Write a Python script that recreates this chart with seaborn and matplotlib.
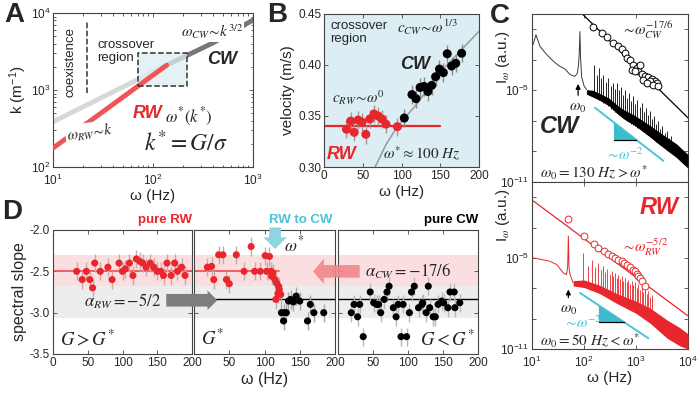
import numpy as np
import matplotlib
matplotlib.use("Agg")
import matplotlib.pyplot as plt
from matplotlib.patches import Rectangle, Polygon
import seaborn as sns

sns.set_theme(style="ticks")
plt.rcParams["font.family"] = ["Liberation Sans", "DejaVu Sans"]
plt.rcParams["mathtext.fontset"] = "stix"
plt.rcParams["axes.unicode_minus"] = False

RED = "#e8262b"
CYAN = "#4cc3d6"
BLUEBG = "#dceef3"

# ---------------- panel A : dispersion k(omega)
a_light_w = [10, 137]
a_light_k = [387, 2100]
a_red_w = [10, 137]
a_red_k = [176, 2100]
a_dark_w = [137, 400, 1000]
a_dark_k = [2100, 4100, 8100]
a_box_w = [71, 218]
a_box_k = [1130, 3000]
a_coex_w = 22
a_coex_k = [910, 7900]

# ---------------- panel B : velocity
b_rw_w = [29, 34.4, 39, 44, 49, 54, 59, 64.5, 69.7, 74.8, 80, 94.6]
b_rw_v = [0.337, 0.345, 0.334, 0.346, 0.344, 0.332, 0.347, 0.352, 0.350, 0.347, 0.342, 0.3395]
b_cw_w = [103.6, 113.5, 118.7, 124, 129, 134, 139, 144, 149, 154, 159, 164.7, 170, 177.6]
b_cw_v = [0.348, 0.371, 0.367, 0.378, 0.379, 0.374, 0.380, 0.3885, 0.396, 0.3925, 0.411, 0.399, 0.4017, 0.4115]
b_err = 0.009
b_flat_w = [0, 150]
b_flat_v = [0.34, 0.34]
b_theory_w = [66, 80, 95, 120, 150, 200]
b_theory_v = [0.300, 0.322, 0.340, 0.362, 0.393, 0.433]

# ---------------- panel C : spectra (log10 of intensity)
cw_low_w = [10.5, 11.9, 14.3, 18, 22.2, 28, 34.5, 43, 54, 67, 74, 78, 81, 83.4, 86, 90, 100, 112]
cw_low_e = [-2.0, -1.36, -2.13, -2.55, -2.88, -3.2, -3.43, -3.6, -3.97, -4.08, -3.9, -3.43, -2.6, -1.15, -2.9, -4.1, -4.7, -4.95]
cw_band_w = [112, 150, 200, 300, 427, 600, 900, 1300, 1860, 2700, 4000, 6000, 8000, 10000]
cw_band_hi = [-4.95, -5.0, -5.2, -5.5, -5.95, -6.3, -6.6, -6.95, -7.3, -7.7, -8.1, -8.5, -8.9, -9.2]
cw_band_lo = [-5.25, -5.45, -5.65, -6.0, -6.5, -6.9, -7.25, -7.65, -8.05, -8.5, -8.95, -9.4, -9.8, -10.1]
cw_spk_w = [156, 175, 194, 215, 236, 265, 294, 325, 356, 390, 425, 465, 507, 560, 614, 670, 733, 810,
            890, 975, 1060, 1170, 1290, 1420, 1550, 1700, 1860, 2040, 2220, 2450, 2690, 2950, 3210,
            3550, 3890, 4250, 4640]
cw_spk_top = [-3.32, -4.0, -3.53, -4.2, -3.97, -4.45, -4.19, -4.7, -4.51, -4.9, -4.51, -5.0, -4.77, -5.3,
              -4.95, -5.5, -5.16, -5.7, -5.38, -5.9, -5.6, -6.1, -5.81, -6.4, -6.14, -6.6, -6.36, -6.9,
              -6.68, -7.2, -7.01, -7.5, -7.33, -7.8, -7.66, -8.1, -7.99]
cw_spk_base = [-5.4, -5.5, -5.6, -5.7, -5.8, -5.9, -6.0, -6.2, -6.3, -6.4, -6.5, -6.6, -6.7, -6.8, -6.9,
               -7.0, -7.1, -7.2, -7.25, -7.35, -7.45, -7.55, -7.65, -7.75, -7.85, -7.95, -8.05, -8.15,
               -8.25, -8.35, -8.45, -8.55, -8.65, -8.75, -8.85, -8.95, -9.05]
cw_fit_w = [90, 10000]
cw_fit_e = [0.05, -6.8]
cw_pts_w = [151, 219, 273, 366, 457, 531, 614, 661, 767, 890, 1030, 826, 1110, 1290, 1490, 1730, 2000,
            2320, 2510, 1870, 1390, 1610, 2150, 2610, 1190, 950]
cw_pts_e = [-0.82, -1.26, -1.52, -1.87, -2.08, -2.3, -2.56, -2.88, -3.0, -3.32, -3.53, -3.64, -3.75, -3.9,
            -4.03, -4.12, -4.25, -4.4, -4.51, -4.4, -4.3, -4.51, -4.62, -4.69, -3.32, -3.75]
cw_slope_w = [163, 3350]
cw_slope_e = [-6.14, -9.61]
cw_tri_w = [382, 382, 1020]
cw_tri_e = [-7.12, -8.25, -8.25]

rw_low_w = [10.6, 15, 22, 30, 40, 46, 48.5, 50, 51.5, 54, 62]
rw_low_e = [-5.0, -5.1, -5.22, -5.44, -5.99, -6.1, -5.6, -3.56, -5.6, -6.1, -6.65]
rw_band_w = [62, 100, 200, 427, 1000, 1860, 4000, 7000, 10000]
rw_band_hi = [-6.5, -6.45, -6.8, -7.35, -7.85, -8.3, -9.1, -9.6, -10.0]
rw_band_lo = [-6.85, -6.95, -7.35, -8.0, -8.65, -9.3, -10.3, -10.8, -11.0]
rw_spk_w = [97, 120, 145, 165, 188, 210, 235, 255, 280, 310, 340, 365, 394, 425, 457, 495, 531, 570,
            614, 660, 713, 765, 826, 890, 955, 1030, 1110, 1200, 1290, 1390, 1490, 1610, 1730, 1850, 2000]
rw_spk_top = [-4.66, -5.5, -5.11, -5.6, -5.33, -5.8, -5.55, -5.95, -5.7, -6.05, -5.88, -6.2, -5.99, -6.3,
              -6.1, -6.4, -6.21, -6.5, -6.32, -6.6, -6.43, -6.7, -6.5, -6.8, -6.58, -6.95, -6.72, -7.1,
              -6.87, -7.25, -7.03, -7.4, -7.2, -7.55, -7.42]
rw_spk_base = [-6.6, -6.7, -6.8, -6.9, -7.0, -7.1, -7.2, -7.3, -7.35, -7.45, -7.5, -7.6, -7.65, -7.7,
               -7.75, -7.8, -7.9, -7.95, -8.0, -8.05, -8.1, -8.15, -8.2, -8.3, -8.35, -8.4, -8.45, -8.5,
               -8.55, -8.6, -8.65, -8.7, -8.8, -8.9, -9.0]
rw_fit_w = [10.6, 9800]
rw_fit_e = [-1.25, -8.8]
rw_pts_w = [50, 101, 155, 188, 243, 294, 351, 396, 457, 531, 587, 661, 767, 860, 955, 1030, 1110, 1190, 1290, 1490]
rw_pts_e = [-2.46, -3.56, -4.11, -4.33, -4.56, -4.73, -4.89, -5.0, -5.11, -5.22, -5.32, -5.44, -5.62, -5.77,
            -5.88, -6.05, -6.21, -6.32, -6.5, -6.87]
rw_slope_w = [84, 1725]
rw_slope_e = [-7.31, -10.29]
rw_tri_w = [195, 195, 589]
rw_tri_e = [-8.14, -9.23, -9.23]

# ---------------- panel D : spectral slope
d_rw_w = [34, 42, 48, 53, 57, 60, 68, 79, 85, 95, 100, 104, 110, 115, 120, 125, 129, 134, 140, 145,
          150, 155, 159, 164, 170, 175, 179, 185, 190]
d_rw_s = [-2.50, -2.60, -2.50, -2.60, -2.70, -2.40, -2.50, -2.45, -2.60, -2.40, -2.50, -2.47, -2.40, -2.55,
          -2.35, -2.38, -2.40, -2.45, -2.40, -2.45, -2.50, -2.50, -2.55, -2.40, -2.55, -2.40, -2.50, -2.45, -2.55]
d_mid_red_w = [19, 25, 28, 35, 41, 46, 50, 60, 71, 81, 86, 94, 101, 103, 107, 109, 110, 112, 115, 117,
               119, 120, 121, 123, 116]
d_mid_red_s = [-2.45, -2.44, -2.60, -2.30, -2.30, -2.60, -2.65, -2.30, -2.50, -2.20, -2.50, -2.50, -2.31,
               -2.50, -2.32, -2.50, -2.56, -2.52, -2.60, -2.64, -2.77, -2.68, -2.72, -2.78, -2.84]
d_mid_blk_w = [124, 128, 131, 127, 134, 137, 141, 145, 150, 165, 161, 170, 184]
d_mid_blk_s = [-3.0, -3.0, -3.0, -3.10, -2.86, -2.84, -2.87, -2.80, -2.86, -2.90, -3.10, -3.0, -3.0]
d_cw_w = [19, 23, 28, 31, 36, 46, 51, 55, 58, 61, 66, 70, 73, 79, 83, 86, 90, 93, 98, 102, 105, 109,
          115, 120, 121, 126, 129, 131, 136, 139, 143, 148, 151, 157, 160, 166, 167, 174]
d_cw_s = [-3.0, -2.90, -3.05, -2.90, -3.29, -2.75, -2.88, -2.90, -2.90, -3.0, -2.84, -2.75, -2.68, -2.94,
          -3.05, -2.90, -3.29, -2.90, -3.29, -3.0, -2.75, -2.68, -2.94, -2.90, -2.88, -3.0, -2.68, -2.94,
          -3.05, -3.05, -2.90, -2.86, -2.88, -2.94, -2.75, -2.75, -2.94, -2.88]
d_err = 0.11
d_rw_level = -2.5
d_cw_level = -17 / 6
d_red_band = [-2.68, -2.30]
d_gray_band = [-3.07, -2.68]


fig = plt.figure(figsize=(7, 3.95), dpi=100)


def panel(l, t, r, b):
    return fig.add_axes([l / 700, 1 - b / 395, (r - l) / 700, (b - t) / 395])


def style(ax):
    ax.tick_params(which="both", direction="in", top=True, right=True, labelsize=8.5,
                   length=3, width=0.6, color="#444", pad=2)
    ax.tick_params(which="minor", length=1.8)
    for sp in ax.spines.values():
        sp.set_color("#444")
        sp.set_linewidth(0.8)


def p10(v):
    return np.power(10.0, np.asarray(v, dtype=float))


MATH = dict(fontsize=11)
WHITE = dict(boxstyle="square,pad=0.05", fc="white", ec="none")

# ======================= A
axA = panel(53, 13, 253, 167)
axA.set_xscale("log")
axA.set_yscale("log")
sns.lineplot(x=a_light_w, y=a_light_k, color="#d8d8d8", lw=3.5, ax=axA, zorder=2)
sns.lineplot(x=a_dark_w, y=a_dark_k, color="#777777", lw=3.5, ax=axA, zorder=2)
axA.add_patch(Rectangle((a_box_w[0], a_box_k[0]), a_box_w[1] - a_box_w[0], a_box_k[1] - a_box_k[0],
                        fc=BLUEBG, ec="none", alpha=0.75, zorder=3))
sns.lineplot(x=a_red_w, y=a_red_k, color="#ee5458", lw=3.5, ax=axA, zorder=4)
axA.add_patch(Rectangle((a_box_w[0], a_box_k[0]), a_box_w[1] - a_box_w[0], a_box_k[1] - a_box_k[0],
                        fc="none", ec="#333", ls="--", lw=1.1, zorder=5))
axA.vlines(a_coex_w, a_coex_k[0], a_coex_k[1], color="#333", ls="--", lw=1.1)
axA.set_xlim(10, 1000)
axA.set_ylim(100, 10000)
axA.set_xticks([10, 100, 1000])
axA.set_xticklabels([r"$\mathregular{10^{1}}$", r"$\mathregular{10^{2}}$", r"$\mathregular{10^{3}}$"])
axA.set_yticks([100, 1000, 10000])
axA.set_yticklabels([r"$\mathregular{10^{2}}$", r"$\mathregular{10^{3}}$", r"$\mathregular{10^{4}}$"])
axA.set_xlabel("ω (Hz)", fontsize=11, labelpad=1)
axA.set_ylabel(r"k (m$^{\mathregular{-1}}$)", fontsize=11, labelpad=1)
style(axA)
axA.tick_params(axis="x", pad=4)
axA.text(0.085, 0.68, "coexistence", rotation=90, fontsize=9.5, ha="center", va="center",
         transform=axA.transAxes)
axA.text(0.22, 0.83, "crossover\nregion", fontsize=9.5, ha="left", va="top", linespacing=1.1,
         transform=axA.transAxes)
axA.text(0.64, 0.88, r"$\omega_{CW}\!\sim\!k^{3/2}$", ha="left", va="center", transform=axA.transAxes,
         bbox=WHITE, zorder=6, **MATH)
axA.text(0.77, 0.695, "CW", fontsize=13, fontweight="bold", style="italic", ha="left", va="center",
         transform=axA.transAxes)
axA.text(0.4, 0.35, "RW", fontsize=13, fontweight="bold", style="italic", color=RED, ha="left", va="center",
         transform=axA.transAxes)
axA.text(0.56, 0.325, r"$\omega^{*}(k^{*})$", fontsize=12, ha="left", va="center", transform=axA.transAxes)
axA.text(0.455, 0.155, r"$k^{*}=G/\sigma$", fontsize=17, ha="left", va="center", transform=axA.transAxes)
axA.text(0.06, 0.225, r"$\omega_{RW}\!\sim\!k$", rotation=8, ha="left", va="center",
         transform=axA.transAxes, bbox=WHITE, zorder=6, **MATH)

# ======================= B
axB = panel(324, 14, 479, 167)
axB.set_facecolor(BLUEBG)
sns.lineplot(x=b_theory_w, y=b_theory_v, color="#999999", lw=1.1, ax=axB, zorder=2)
sns.lineplot(x=b_flat_w, y=b_flat_v, color=RED, lw=1.6, ax=axB, zorder=2)
axB.errorbar(b_rw_w, b_rw_v, yerr=b_err, fmt="none", ecolor="#9a9a9a", elinewidth=1.0, zorder=3)
axB.errorbar(b_cw_w, b_cw_v, yerr=b_err, fmt="none", ecolor="#8a8a8a", elinewidth=1.0, zorder=3)
sns.scatterplot(x=b_rw_w, y=b_rw_v, color=RED, s=42, edgecolor="none", ax=axB, zorder=4)
sns.scatterplot(x=b_cw_w, y=b_cw_v, color="black", s=42, edgecolor="none", ax=axB, zorder=4)
axB.set_xlim(0, 200)
axB.set_ylim(0.30, 0.45)
axB.set_xticks([0, 50, 100, 150, 200])
axB.set_yticks([0.30, 0.35, 0.40, 0.45])
axB.set_yticklabels(["0.30", "0.35", "0.40", "0.45"])
axB.set_xlabel("ω (Hz)", fontsize=11, labelpad=2)
axB.set_ylabel("velocity (m/s)", fontsize=11, labelpad=2)
style(axB)
axB.text(0.04, 0.96, "crossover\nregion", fontsize=9.5, ha="left", va="top", linespacing=1.1,
         transform=axB.transAxes)
axB.text(0.47, 0.91, r"$c_{CW}\!\sim\!\omega^{1/3}$", ha="left", va="center", transform=axB.transAxes, **MATH)
axB.text(0.49, 0.667, "CW", fontsize=13, fontweight="bold", style="italic", ha="left", va="center",
         transform=axB.transAxes)
axB.text(0.05, 0.45, r"$c_{RW}\!\sim\!\omega^{0}$", ha="left", va="center", transform=axB.transAxes, **MATH)
axB.text(0.02, 0.08, "RW", fontsize=13, fontweight="bold", style="italic", color=RED, ha="left",
         va="center", transform=axB.transAxes)
axB.text(0.38, 0.09, r"$\omega^{*}\approx 100\ Hz$", ha="left", va="center", transform=axB.transAxes, **MATH)


# ======================= C
def spectrum(ax, col, lowcol, low_w, low_e, band_w, band_hi, band_lo, spk_w, spk_top, spk_base,
             fit_w, fit_e, pts_w, pts_e, slope_w, slope_e, tri_w, tri_e):
    ax.set_xscale("log")
    ax.set_yscale("log")
    sns.lineplot(x=low_w, y=p10(low_e), color=lowcol, lw=0.7, ax=ax, zorder=3)
    ax.fill_between(band_w, p10(band_lo), p10(band_hi), color=col, lw=0, zorder=3)
    ax.vlines(spk_w, p10(spk_base), p10(spk_top), color=col, lw=0.6, zorder=3)
    sns.lineplot(x=fit_w, y=p10(fit_e), color=col, lw=0.9, ax=ax, zorder=2)
    ax.scatter(pts_w, p10(pts_e), s=24, facecolors="white", edgecolors=col, linewidths=0.7, zorder=4)
    sns.lineplot(x=slope_w, y=p10(slope_e), color=CYAN, lw=1.4, ax=ax, zorder=4)
    ax.add_patch(Polygon(list(zip(tri_w, p10(tri_e))), closed=True, fc="#3dbccf", ec="none", zorder=4))
    sns.lineplot(x=tri_w[:2], y=p10(tri_e[:2]), color="black", lw=0.9, ax=ax, zorder=5)
    sns.lineplot(x=tri_w[1:], y=p10(tri_e[1:]), color="black", lw=0.9, ax=ax, zorder=5)
    ax.set_xlim(10, 10000)
    ax.set_ylim(1e-11, 1e0)
    ax.set_xticks([10, 100, 1000, 10000])
    ax.set_yticks([1e-11, 1e-9, 1e-7, 1e-5, 1e-3, 1e-1])
    ax.set_yticklabels([r"$\mathregular{10^{-11}}$", "", "", r"$\mathregular{10^{-5}}$", "", ""])
    ax.yaxis.set_minor_locator(matplotlib.ticker.NullLocator())
    ax.xaxis.set_minor_locator(matplotlib.ticker.NullLocator())
    style(ax)


axC1 = panel(532, 14, 688, 182)
spectrum(axC1, "black", "#3a3a3a", cw_low_w, cw_low_e, cw_band_w, cw_band_hi, cw_band_lo, cw_spk_w,
         cw_spk_top, cw_spk_base, cw_fit_w, cw_fit_e, cw_pts_w, cw_pts_e, cw_slope_w, cw_slope_e,
         cw_tri_w, cw_tri_e)
axC1.set_xticklabels([])
axC1.set_ylabel(r"I$_{\omega}$ (a.u.)", fontsize=11)
axC1.yaxis.set_label_coords(-0.13, 0.74)
axC1.text(0.57, 0.905, r"$\sim\!\omega_{CW}^{-17/6}$", ha="left", va="center", transform=axC1.transAxes, **MATH)
axC1.annotate("", xy=(77, p10(-4.4)), xytext=(77, p10(-5.5)),
              arrowprops=dict(arrowstyle="-|>", color="black", lw=0.9, mutation_scale=7))
axC1.text(77, p10(-6.15), r"$\omega_0$", ha="center", va="center", **MATH)
axC1.text(0.05, 0.33, "CW", fontsize=17, fontweight="bold", style="italic", ha="left", va="center",
          transform=axC1.transAxes)
axC1.text(0.47, 0.165, r"$\sim\!\omega^{-2}$", color=CYAN, ha="left", va="center", transform=axC1.transAxes, **MATH)
axC1.text(0.05, 0.055, r"$\omega_0=130\ Hz>\omega^{*}$", ha="left", va="center",
          transform=axC1.transAxes, **MATH)

axC2 = panel(532, 182, 688, 349)
spectrum(axC2, RED, RED, rw_low_w, rw_low_e, rw_band_w, rw_band_hi, rw_band_lo, rw_spk_w, rw_spk_top,
         rw_spk_base, rw_fit_w, rw_fit_e, rw_pts_w, rw_pts_e, rw_slope_w, rw_slope_e, rw_tri_w, rw_tri_e)
axC2.set_xticklabels([r"$\mathregular{10^{1}}$", r"$\mathregular{10^{2}}$", r"$\mathregular{10^{3}}$",
                      r"$\mathregular{10^{4}}$"])
axC2.tick_params(axis="x", pad=4)
axC2.set_xlabel("ω (Hz)", fontsize=11, labelpad=1)
axC2.set_ylabel(r"I$_{\omega}$ (a.u.)", fontsize=11)
axC2.yaxis.set_label_coords(-0.13, 0.8)
axC2.text(0.69, 0.85, "RW", fontsize=17, fontweight="bold", style="italic", color=RED, ha="left",
          va="center", transform=axC2.transAxes)
axC2.text(0.57, 0.61, r"$\sim\!\omega_{RW}^{-5/2}$", color=RED, ha="left", va="center",
          transform=axC2.transAxes, **MATH)
axC2.annotate("", xy=(50, p10(-6.9)), xytext=(50, p10(-7.8)),
              arrowprops=dict(arrowstyle="-|>", color="black", lw=0.9, mutation_scale=7))
axC2.text(50, p10(-8.4), r"$\omega_0$", ha="center", va="center", **MATH)
axC2.text(0.2, 0.155, r"$\sim\!\omega^{-2}$", color=CYAN, ha="left", va="center", transform=axC2.transAxes,
          **MATH)
axC2.text(0.05, 0.05, r"$\omega_0=50\ Hz<\omega^{*}$", ha="left", va="center",
          transform=axC2.transAxes, **MATH)

# ======================= D
axD1 = panel(53, 230, 192, 354)
axD2 = panel(194, 230, 335, 354)
axD3 = panel(338, 230, 478, 354)
for ax in (axD1, axD2, axD3):
    ax.set_facecolor("none")
    ax.axhspan(d_red_band[0], d_red_band[1], color="#fbdfe0", lw=0, zorder=0)
    ax.axhspan(d_gray_band[0], d_gray_band[1], color="#ededed", lw=0, zorder=0)
    ax.set_xlim(0, 200)
    ax.set_ylim(-3.5, -2.0)
    ax.set_xticks([0, 50, 100, 150, 200])
    ax.set_yticks([-3.5, -3.0, -2.5, -2.0])
    style(ax)
axD1.set_yticklabels(["-3.5", "-3.0", "-2.5", "-2.0"])
axD2.set_yticklabels([])
axD3.set_yticklabels([])
axD2.set_xticklabels(["", "50", "100", "150", "200"])
axD3.set_xticklabels(["", "50", "100", "150", "200"])

axD1.axhline(d_rw_level, color="#ee5458", lw=1.3, zorder=1)
axD2.axhline(d_rw_level, xmax=0.6, color="#ee5458", lw=1.3, zorder=1)
axD2.axhline(d_cw_level, xmin=0.15, color="black", lw=1.0, zorder=1)
axD3.axhline(d_cw_level, color="black", lw=1.0, zorder=1)

axD1.errorbar(d_rw_w, d_rw_s, yerr=d_err, fmt="none", ecolor="#c8a8a8", elinewidth=1.0, zorder=2)
sns.scatterplot(x=d_rw_w, y=d_rw_s, color=RED, s=26, edgecolor="none", ax=axD1, zorder=3)
axD2.errorbar(d_mid_red_w, d_mid_red_s, yerr=d_err, fmt="none", ecolor="#c8a8a8", elinewidth=1.0, zorder=2)
axD2.errorbar(d_mid_blk_w, d_mid_blk_s, yerr=d_err, fmt="none", ecolor="#a8a8a8", elinewidth=1.0, zorder=2)
sns.scatterplot(x=d_mid_red_w, y=d_mid_red_s, color=RED, s=26, edgecolor="none", ax=axD2, zorder=3)
sns.scatterplot(x=d_mid_blk_w, y=d_mid_blk_s, color="black", s=26, edgecolor="none", ax=axD2, zorder=3)
axD3.errorbar(d_cw_w, d_cw_s, yerr=d_err, fmt="none", ecolor="#b8b8b8", elinewidth=1.0, zorder=2)
sns.scatterplot(x=d_cw_w, y=d_cw_s, color="black", s=26, edgecolor="none", ax=axD3, zorder=3)
for ax in (axD1, axD2, axD3):
    ax.set_xlabel("")
    ax.set_ylabel("")

axD1.set_ylabel("spectral slope", fontsize=11.5, labelpad=2)
axD2.set_xlabel("ω (Hz)", fontsize=11.5, labelpad=2)

axD1.text(1.0, 1.03, "pure RW", color=RED, fontsize=9.5, fontweight="bold", ha="right", va="bottom",
          transform=axD1.transAxes)
axD2.text(0.98, 1.03, "RW to CW", color=CYAN, fontsize=9.5, fontweight="bold", ha="right", va="bottom",
          transform=axD2.transAxes)
axD3.text(1.0, 1.03, "pure CW", color="black", fontsize=9.5, fontweight="bold", ha="right", va="bottom",
          transform=axD3.transAxes)
axD1.text(44, -2.86, r"$\alpha_{RW}=-5/2$", fontsize=12, ha="left", va="center")
axD3.text(38, -2.5, r"$\alpha_{CW}=-17/6$", fontsize=12, ha="left", va="center")
axD2.text(128, -2.17, r"$\omega^{*}$", fontsize=12.5, ha="left", va="center")
axD1.text(0.05, 0.12, r"$G>G^{*}$", fontsize=13.5, ha="left", va="center", transform=axD1.transAxes)
axD2.text(0.05, 0.12, r"$G^{*}$", fontsize=13.5, ha="left", va="center", transform=axD2.transAxes)
axD3.text(0.98, 0.12, r"$G<G^{*}$", fontsize=13.5, ha="right", va="center", transform=axD3.transAxes)

# arrows crossing between the D panels (drawn from the last axes so they sit on top)
axD3.annotate("", xy=(33, -2.85), xycoords=axD2.transData, xytext=(163, -2.85), textcoords=axD1.transData,
              arrowprops=dict(arrowstyle="simple,head_length=0.5,head_width=1.0,tail_width=0.65",
                              fc="#7d7d7d", ec="none", mutation_scale=14, shrinkA=0, shrinkB=0),
              annotation_clip=False, zorder=6)
axD3.annotate("", xy=(169, -2.5), xycoords=axD2.transData, xytext=(31, -2.5), textcoords=axD3.transData,
              arrowprops=dict(arrowstyle="simple,head_length=0.55,head_width=1.3,tail_width=0.65",
                              fc="#f2868b", ec="none", alpha=0.9, mutation_scale=14, shrinkA=0, shrinkB=0),
              annotation_clip=False, zorder=6)
axD3.annotate("", xy=(115, -2.23), xycoords=axD2.transData, xytext=(115, -1.97), textcoords=axD2.transData,
              arrowprops=dict(arrowstyle="simple,head_length=0.6,head_width=1.2,tail_width=0.6",
                              fc="#8fd4e2", ec="none", mutation_scale=14, shrinkA=0, shrinkB=0),
              annotation_clip=False, zorder=6)

# panel letters
for lab, x, y in [("A", 14, 15), ("B", 277, 15), ("C", 500, 16), ("D", 12, 212)]:
    fig.text(x / 700, 1 - y / 395, lab, fontsize=20, fontweight="bold", ha="center", va="center")

fig.savefig("out.png", dpi=100)
